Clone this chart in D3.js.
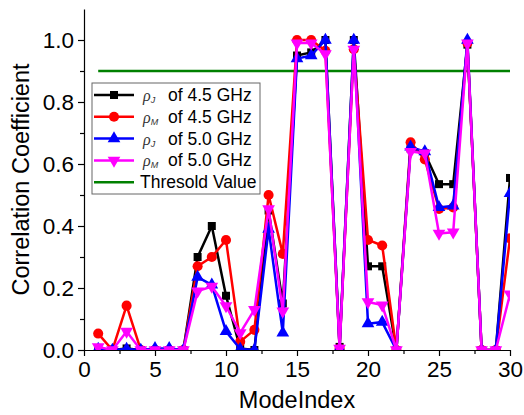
<!DOCTYPE html>
<html>
<head>
<meta charset="utf-8">
<script src="https://cdn.jsdelivr.net/npm/d3@7"></script>
<style>
  body { margin: 0; background: #fff; }
  svg { display: block; font-family: "Liberation Sans", Arial, sans-serif; }
</style>
</head>
<body>
<svg width="524" height="415"></svg>
<script>
// mode index 1..30
const modeIndex = d3.range(1, 31);

const rhoJ45 = [0.003, 0, 0.005, 0, 0, 0, 0, 0.30, 0.40, 0.175, 0.005, 0, 0.45, 0.15, 0.95,
                0.96, 1.0, 0.01, 1.0, 0.27, 0.27, 0, 0.65, 0.635, 0.535, 0.535, 0.985, 0, 0, 0.555];
const rhoM45 = [0.053, 0, 0.143, 0, 0, 0, 0, 0.27, 0.30, 0.355, 0.027, 0.065, 0.50, 0.31, 1.0,
                1.0, 0.965, 0.005, 0.97, 0.355, 0.337, 0, 0.67, 0.615, 0.455, 0.46, 0.99, 0, 0, 0.36];
const rhoJ50 = [0.003, 0, 0.003, 0, 0.005, 0.005, 0, 0.235, 0.21, 0.06, 0.003, 0, 0.39, 0.055, 0.94,
                0.95, 1.0, 0.005, 1.0, 0.085, 0.09, 0, 0.655, 0.64, 0.46, 0.465, 1.0, 0, 0, 0.505];
const rhoM50 = [0.01, 0, 0.06, 0, 0, 0, 0, 0.19, 0.205, 0.142, 0.055, 0.13, 0.455, 0.125, 0.99,
                0.99, 0.955, 0.005, 0.97, 0.155, 0.145, 0, 0.64, 0.635, 0.376, 0.38, 0.99, 0, 0, 0.18];

const threshold = 0.9;
const thresholdRange = [1, 30];

const xTicks = [0, 5, 10, 15, 20, 25, 30];
const yTicks = [0, 0.2, 0.4, 0.6, 0.8, 1.0];

const series = [
    {sub: "J", freq: "4.5 GHz", values: rhoJ45, color: "#000000", marker: "square"},
    {sub: "M", freq: "4.5 GHz", values: rhoM45, color: "#ff0000", marker: "circle"},
    {sub: "J", freq: "5.0 GHz", values: rhoJ50, color: "#0000ff", marker: "triangle"},
    {sub: "M", freq: "5.0 GHz", values: rhoM50, color: "#ff00ff", marker: "triangleDown"}
];

// plot area
const pLeft = 84, pRight = 510, pTop = 9, pBottom = 350;

const x = d3.scaleLinear().domain([0, 30]).range([pLeft, pRight]);
const y = d3.scaleLinear().domain([0, 1.1]).range([pBottom, pTop]);

const svg = d3.select("svg");
svg.append("rect").attr("width", 524).attr("height", 415).attr("fill", "#fff");

svg.append("defs").append("clipPath").attr("id", "plot")
    .append("rect")
    .attr("x", pLeft).attr("y", pTop)
    .attr("width", pRight - pLeft).attr("height", pBottom - pTop);

const symbols = {
    square: d3.symbol().type(d3.symbolSquare).size(64),
    circle: d3.symbol().type(d3.symbolCircle).size(80),
    triangle: d3.symbol().type(d3.symbolTriangle).size(70)
};

function markerPath(type) {
    if (type == "triangleDown") return symbols.triangle();
    return symbols[type]();
}

const plot = svg.append("g").attr("clip-path", "url(#plot)");

// threshold line
plot.append("line")
    .attr("x1", x(thresholdRange[0])).attr("x2", x(thresholdRange[1]))
    .attr("y1", y(threshold)).attr("y2", y(threshold))
    .attr("stroke", "#008000").attr("stroke-width", 2.5);

const line = d3.line().x((d, i) => x(modeIndex[i])).y(d => y(d));

series.forEach(s => {
    const g = plot.append("g");
    g.append("path")
        .attr("d", line(s.values))
        .attr("fill", "none")
        .attr("stroke", s.color)
        .attr("stroke-width", 2.5)
        .attr("stroke-linejoin", "round");
    g.selectAll("path.mk")
        .data(s.values)
        .enter()
        .append("path")
        .attr("class", "mk")
        .attr("d", markerPath(s.marker))
        .attr("transform", (d, i) => `translate(${x(modeIndex[i])},${y(d)})` + (s.marker == "triangleDown" ? " rotate(180)" : ""))
        .attr("fill", s.color);
});

// axes
const fontTick = "22.5px";
const xAxisG = svg.append("g").attr("transform", `translate(0,${pBottom})`);
xAxisG.call(d3.axisBottom(x).tickValues(xTicks).tickFormat(d3.format("d")).tickSize(6).tickSizeOuter(0));
svg.append("g").attr("transform", `translate(0,${pBottom})`)
    .call(d3.axisBottom(x).tickValues(d3.range(2.5, 30, 5)).tickFormat("").tickSize(4).tickSizeOuter(0))
    .select(".domain").remove();

const yAxisG = svg.append("g").attr("transform", `translate(${pLeft},0)`);
yAxisG.call(d3.axisLeft(y).tickValues(yTicks).tickFormat(d3.format(".1f")).tickSize(6).tickSizeOuter(0));
svg.append("g").attr("transform", `translate(${pLeft},0)`)
    .call(d3.axisLeft(y).tickValues([0.1, 0.3, 0.5, 0.7, 0.9]).tickFormat("").tickSize(4).tickSizeOuter(0))
    .select(".domain").remove();

svg.selectAll(".domain, .tick line").attr("stroke", "#000").attr("stroke-width", 1.2);
xAxisG.selectAll("text").attr("font-size", fontTick).attr("font-family", "Liberation Sans, Arial, sans-serif")
    .attr("fill", "#000").attr("dy", "0.8em");
yAxisG.selectAll("text").attr("font-size", fontTick).attr("font-family", "Liberation Sans, Arial, sans-serif")
    .attr("fill", "#000").attr("x", -10);

// axis titles
svg.append("text")
    .attr("x", (pLeft + pRight) / 2).attr("y", 408)
    .attr("text-anchor", "middle")
    .attr("font-size", "23.5px")
    .text("ModeIndex");

svg.append("text")
    .attr("transform", `translate(29,${(pTop + pBottom) / 2}) rotate(-90)`)
    .attr("text-anchor", "middle")
    .attr("font-size", "23.5px")
    .text("Correlation Coefficient");

// legend
const legend = svg.append("g").attr("transform", "translate(92,83)");
legend.append("rect")
    .attr("width", 168).attr("height", 111)
    .attr("fill", "#fff").attr("stroke", "#666").attr("stroke-width", 1);

const rowY = i => 12 + i * 21.8;

series.forEach((s, i) => {
    const row = legend.append("g").attr("transform", `translate(0,${rowY(i)})`);
    row.append("line").attr("x1", 2).attr("x2", 42)
        .attr("stroke", s.color).attr("stroke-width", 2.5);
    row.append("path")
        .attr("d", markerPath(s.marker))
        .attr("transform", "translate(22,0)" + (s.marker == "triangleDown" ? " rotate(180)" : ""))
        .attr("fill", s.color);
    const t = row.append("text").attr("x", 51).attr("y", 6).attr("font-size", "17.5px");
    t.append("tspan").attr("font-style", "italic").attr("font-family", "Liberation Serif, serif")
        .attr("font-size", "16px").attr("fill", "#333").text("ρ");
    t.append("tspan").attr("font-style", "italic").attr("font-size", "9px")
        .attr("dy", 2).attr("fill", "#333").text(s.sub);
    t.append("tspan").attr("x", 76).attr("dy", -2).text("of " + s.freq);
});

const thRow = legend.append("g").attr("transform", `translate(0,${rowY(4)})`);
thRow.append("line").attr("x1", 2).attr("x2", 42)
    .attr("stroke", "#008000").attr("stroke-width", 2.5);
thRow.append("text").attr("x", 48).attr("y", 6).attr("font-size", "17.5px").text("Thresold Value");
</script>
</body>
</html>
